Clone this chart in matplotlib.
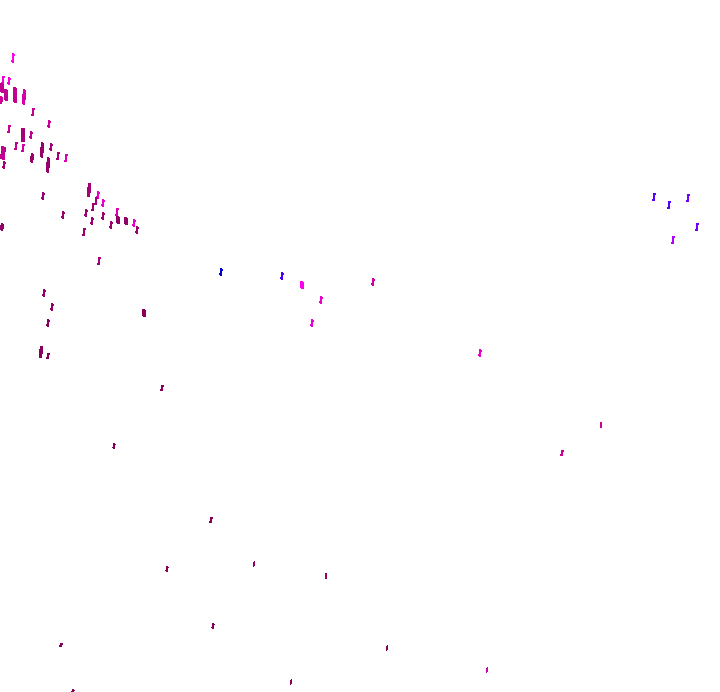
import numpy as np
import matplotlib
matplotlib.use("Agg")
import matplotlib.pyplot as plt
from matplotlib.colors import LinearSegmentedColormap

# mark positions (x, y centre), segment length, colour value, thickness
mark_x = [13, 3, 9, 2, 6, 1, 15, 24, 33, 49, 9, 23, 31, 3, 16, 23, 42, 51, 32, 48,
          58, 66, 4, 43, 89, 98, 96, 103, 93, 63, 86, 103, 117, 118, 126, 92, 111, 134, 137, 2,
          84, 99, 44, 52, 48, 144, 41, 48, 221, 282, 302, 373, 321, 312, 654, 669, 688, 697, 673, 480,
          601, 562, 162, 114, 211, 167, 254, 326, 213, 61, 387, 291, 487, 73]
mark_y = [58, 80, 81, 88, 95, 100, 95, 97, 112, 124, 129, 135, 135, 153, 146, 148, 150, 147, 158, 165,
          156, 158, 165, 196, 190, 195, 201, 203, 207, 215, 213, 216, 212, 220, 221, 221, 225, 223, 230, 227,
          232, 261, 293, 307, 323, 313, 352, 356, 272, 276, 285, 282, 300, 323, 197, 205, 198, 227, 240, 353,
          425, 453, 388, 446, 520, 569, 564, 576, 626, 645, 648, 682, 670, 691]
mark_len = [8, 7, 6, 8, 10, 6, 14, 14, 7, 6, 7, 13, 6, 12, 7, 7, 14, 6, 8, 14,
            7, 7, 6, 6, 13, 6, 7, 6, 7, 6, 6, 6, 7, 6, 6, 6, 6, 6, 6, 6,
            7, 7, 6, 6, 6, 6, 11, 5, 6, 6, 6, 6, 6, 6, 7, 7, 7, 7, 7, 6,
            5, 5, 5, 4, 5, 4, 4, 5, 4, 3, 4, 4, 4, 2]
mark_val = [0.5, 0.55, 0.55, 0.75, 0.75, 0.72, 0.75, 0.68, 0.75, 0.72, 0.72, 0.85, 0.75, 0.75, 0.75, 0.7, 0.9, 0.85, 0.9, 0.9,
            0.85, 0.65, 0.85, 0.88, 0.85, 0.6, 0.85, 0.6, 0.88, 0.88, 0.88, 0.88, 0.65, 0.92, 0.92, 0.88, 0.88, 0.6, 0.88, 0.92,
            0.88, 0.85, 0.9, 0.92, 0.95, 0.95, 0.95, 0.95, 0.0, 0.2, 0.5, 0.7, 0.58, 0.58, 0.22, 0.22, 0.28, 0.28, 0.38, 0.6,
            0.72, 0.72, 0.95, 0.95, 0.95, 0.95, 0.95, 0.92, 0.95, 0.95, 0.95, 0.95, 0.7, 0.95]
mark_thick = [2, 2, 2, 4, 4, 3, 4, 3, 2, 2, 2, 4, 2, 5, 2, 2, 3, 2, 3, 3,
              2, 2, 2, 2, 3, 2, 2, 2, 2, 2, 2, 2, 2, 4, 4, 2, 2, 2, 2, 3,
              2, 2, 2, 2, 2, 4, 3, 2, 2, 2, 4, 2, 2, 2, 2, 2, 2, 2, 2, 2,
              1, 2, 2, 2, 2, 2, 1, 1, 2, 2, 1, 1, 1, 2]

cmap = LinearSegmentedColormap.from_list(
    "marks", [(0.0, "#0000cc"), (0.25, "#6000ff"), (0.5, "#ff00f0"),
              (0.72, "#cc0099"), (1.0, "#7a0050")])

fig = plt.figure(figsize=(7.2, 6.92), dpi=100)
ax = fig.add_axes([0, 0, 1, 1])

for x, y, l, v, t in zip(mark_x, mark_y, mark_len, mark_val, mark_thick):
    # short slanted segment, top leaning right
    ax.plot([x - 0.4, x + 0.4], [y + l / 2, y - l / 2], color=cmap(v),
            linewidth=t * 0.55, solid_capstyle="butt", antialiased=False)

ax.set_xlim(0, 720)
ax.set_ylim(692, 0)
ax.axis("off")

fig.savefig("out.png", dpi=100, facecolor="white")
